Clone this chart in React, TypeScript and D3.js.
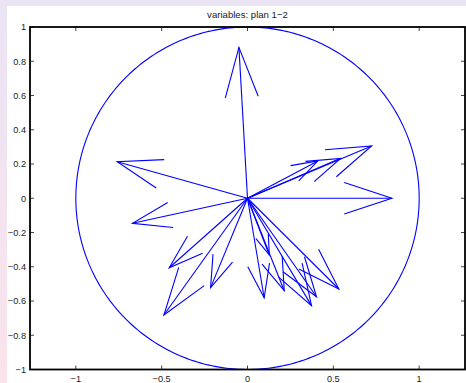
import React from "react";
import * as d3 from "d3";

const W = 466;
const H = 383;

// Variable coordinates (correlation circle, plan 1-2)
const varX = [-0.05, -0.759, -0.67, 0.841, 0.723, 0.542, 0.41, -0.456, -0.487, -0.215, 0.097, 0.127, 0.214, 0.373, 0.402, 0.532];
const varY = [0.881, 0.213, -0.146, 0.0, 0.305, 0.233, 0.218, -0.406, -0.682, -0.522, -0.581, -0.331, -0.54, -0.627, -0.575, -0.53];

const xTicks = [-1, -0.5, 0, 0.5, 1];
const yTicks = [-1, -0.8, -0.6, -0.4, -0.2, 0, 0.2, 0.4, 0.6, 0.8, 1];
const title = "variables: plan 1\u22122";

const fmt = (v: number) => {
  const s = String(Math.round(v * 10) / 10);
  return s.replace("-", "\u2212");
};

export default function App() {
  const left = 30, right = 465, top = 27, bottom = 369.5;
  const x = d3.scaleLinear().domain([-1.267, 1.267]).range([left, right]);
  const y = d3.scaleLinear().domain([-1, 1]).range([bottom, top]);

  const circlePts = d3.range(0, 361).map((a) => {
    const t = (a * Math.PI) / 180;
    return [Math.cos(t), Math.sin(t)] as [number, number];
  });
  const line = d3
    .line<[number, number]>()
    .x((d) => x(d[0]))
    .y((d) => y(d[1]));

  const alpha = 0.33, beta = 0.33;
  const arrows = varX.map((u, i) => {
    const v = varY[i];
    const shaft: [number, number][] = [[0, 0], [u, v]];
    const head: [number, number][] = [
      [u - alpha * (u + beta * v), v - alpha * (v - beta * u)],
      [u, v],
      [u - alpha * (u - beta * v), v - alpha * (v + beta * u)],
    ];
    return { shaft, head };
  });

  const tickLen = 4;
  const font = "'Liberation Sans', Arial, Helvetica, sans-serif";

  return (
    <svg width={W} height={H} style={{ position: "absolute", left: 0, top: 0 }}>
      <defs>
        <linearGradient id="bg" x1="0" y1="0" x2="0" y2="1">
          <stop offset="0" stopColor="#ebe4f5" />
          <stop offset="1" stopColor="#fae3eb" />
        </linearGradient>
      </defs>
      <rect x={0} y={0} width={W} height={H} fill="url(#bg)" />
      <rect x={7} y={6} width={W - 7} height={H - 6} fill="#ffffff" />

      <text x={x(0)} y={17.5} textAnchor="middle" fontFamily={font} fontSize={9.6} fill="#222">
        {title}
      </text>

      {/* unit circle */}
      <path d={line(circlePts) || ""} fill="none" stroke="#0000ff" strokeWidth={1.1} />

      {/* arrows */}
      {arrows.map((a, i) => (
        <g key={i} fill="none" stroke="#0000ff" strokeWidth={1.1}>
          <path d={line(a.shaft) || ""} />
          <path d={line(a.head) || ""} />
        </g>
      ))}

      {/* ticks */}
      {xTicks.map((t) => (
        <g key={"x" + t}>
          <line x1={x(t)} x2={x(t)} y1={bottom} y2={bottom - tickLen} stroke="#444" strokeWidth={1} />
          <line x1={x(t)} x2={x(t)} y1={top} y2={top + tickLen} stroke="#444" strokeWidth={1} />
          <text x={x(t)} y={bottom + 12.3} textAnchor="middle" fontFamily={font} fontSize={9.2} fill="#222">
            {fmt(t)}
          </text>
        </g>
      ))}
      {yTicks.map((t) => (
        <g key={"y" + t}>
          <line x1={left} x2={left + tickLen} y1={y(t)} y2={y(t)} stroke="#444" strokeWidth={1} />
          <line x1={right} x2={right - tickLen} y1={y(t)} y2={y(t)} stroke="#444" strokeWidth={1} />
          <text x={26} y={y(t) + 3.3} textAnchor="end" fontFamily={font} fontSize={9.2} fill="#222">
            {fmt(t)}
          </text>
        </g>
      ))}

      <rect x={left} y={top} width={right - left} height={bottom - top} fill="none" stroke="#000" strokeWidth={1.8} />
    </svg>
  );
}
